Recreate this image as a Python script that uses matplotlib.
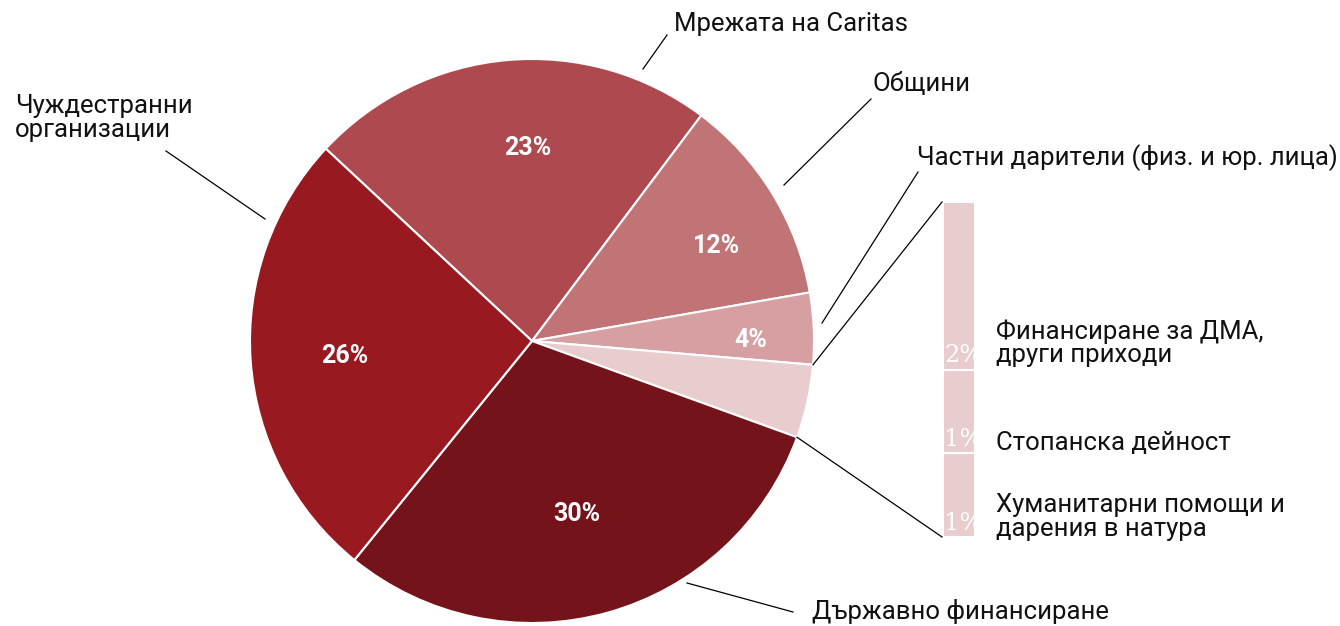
import numpy as np
import matplotlib
matplotlib.use("Agg")
import matplotlib.pyplot as plt

# ---- data ----
pie_labels = ["Мрежата на Caritas", "Общини", "Частни дарители (физ. и юр. лица)",
              "Други", "Държавно финансиране", "Чуждестранни\nорганизации"]
bar_labels = ["Финансиране за ДМА,\nдруги приходи", "Стопанска дейност",
              "Хуманитарни помощи и\nдарения в натура"]
bar_values = [2.1, 1.05, 1.05]
pie_values = [23.3, 12.0, 4.1, sum(bar_values), 30.3, 26.1]
pie_pct_text = ["23%", "12%", "4%", "", "30%", "26%"]
bar_pct_text = ["2%", "1%", "1%"]

pie_colors = ["#AE4A4F", "#C07476", "#D6A0A3", "#E9CCCD", "#74131A", "#981A20"]
bar_color = "#E9CCCD"

plt.rcParams['font.family'] = ['Roboto', 'DejaVu Sans']

W, H = 1340, 626
fig = plt.figure(figsize=(W / 100, H / 100), dpi=100)
ax = fig.add_axes([0, 0, 1, 1])

def Y(py):
    return H - py

cx, cy, R = 532, Y(341), 282
wedges, _ = ax.pie(pie_values, colors=pie_colors, startangle=137, counterclock=False,
                   center=(cx, cy), radius=R,
                   wedgeprops=dict(edgecolor="white", linewidth=1.5))
ax.set_xlim(0, W)
ax.set_ylim(0, H)
ax.set_aspect("equal")
ax.axis("off")

# percentage labels inside the pie (angle in degrees, radius fraction)
pct_pos = [(91.2, 0.684), (27.2, 0.737), (0.3, 0.777), None, (-75.4, 0.634), (184.6, 0.665)]
for t, pos in zip(pie_pct_text, pct_pos):
    if not t or pos is None:
        continue
    a = np.deg2rad(pos[0])
    ax.text(cx + pos[1] * R * np.cos(a), cy + pos[1] * R * np.sin(a), t,
            color="white", fontsize=18, fontweight=600, ha="center", va="center")

# stacked bar (of pie)
bar_x, bar_w = 959, 32
bar_top, bar_bot = Y(202), Y(537)
scale = (bar_top - bar_bot) / sum(bar_values)
bottom = bar_bot
segments = []
for v, lab, pt in zip(bar_values[::-1], bar_labels[::-1], bar_pct_text[::-1]):
    rects = ax.bar(bar_x, v * scale, width=bar_w, bottom=bottom, color=bar_color,
                   edgecolor="white", linewidth=1.5)
    segments.append((bottom, rects[0], pt))
    bottom += v * scale
for b, rect, pt in segments:
    tx = ax.text(bar_x - bar_w / 2 + 1, b + 2, pt, color="white", fontsize=17.5,
                 family="DejaVu Serif", ha="left", va="bottom")
    tx.set_clip_path(rect)

# connection lines from "other" wedge to bar
ow = wedges[3]
for ang, by in [(ow.theta2, bar_top), (ow.theta1, bar_bot)]:
    a = np.deg2rad(ang)
    ax.plot([cx + R * np.cos(a), bar_x - bar_w / 2 - 1], [cy + R * np.sin(a), by],
            color="black", linewidth=0.9)

# outside labels with leader lines (pixel coords)
fs = 18.5
ls = 0.97
label_spec = [
    (0, (643, 69), (667, 35), (674, 24)),
    (1, (784, 185), (871, 99), (872, 84)),
    (2, (822, 323), (918, 172), (917, 158)),
    (4, (687, 583), (793, 612), (812, 612)),
    (5, (265, 219), (166, 151), (15, 118)),
]
for idx, p0, p1, tp in label_spec:
    ax.plot([p0[0], p1[0]], [Y(p0[1]), Y(p1[1])], color="black", linewidth=0.9)
    ax.text(tp[0], Y(tp[1]), pie_labels[idx], fontsize=fs, ha="left", va="center",
            color="#111111", linespacing=ls)

bar_label_y = [343, 443, 517]
for lab, py in zip(bar_labels, bar_label_y):
    ax.text(996, Y(py), lab, fontsize=fs, ha="left", va="center", color="#111111",
            linespacing=ls)

fig.savefig("out.png", dpi=100, facecolor="white")
